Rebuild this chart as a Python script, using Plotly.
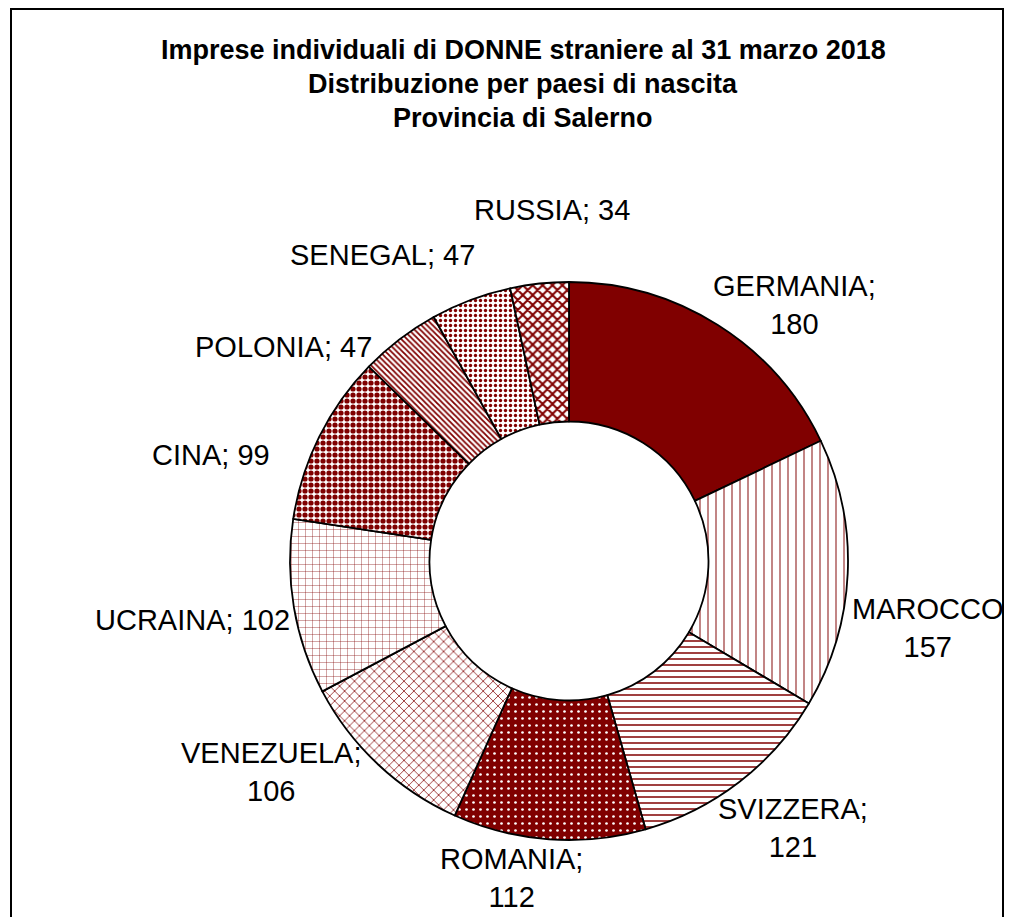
import plotly.graph_objects as go

# ---- data ----
countries = ["GERMANIA", "MAROCCO", "SVIZZERA", "ROMANIA", "VENEZUELA",
             "UCRAINA", "CINA", "POLONIA", "SENEGAL", "RUSSIA"]
values = [180, 157, 121, 112, 106, 102, 99, 47, 47, 34]
label_texts = ["GERMANIA;<br>180", "MAROCCO<br>157", "SVIZZERA;<br>121",
               "ROMANIA;<br>112", "VENEZUELA;<br>106", "UCRAINA; 102",
               "CINA; 99", "POLONIA; 47", "SENEGAL; 47", "RUSSIA; 34"]

title_lines = ["Imprese individuali di DONNE straniere al 31 marzo 2018",
               "Distribuzione per paesi di nascita",
               "Provincia di Salerno"]

# ---- styles ----
OFF = 8                      # browser body margin
W, H = 1014 - OFF, 917 - OFF
DARK = "#800000"
WHITE = "#ffffff"
FONT = "Liberation Sans, Arial, sans-serif"
shapes_p = ["", "|", "-", ".", "x", "+", ".", "\\", ".", "x"]
fg = [DARK, DARK, DARK, WHITE, DARK, DARK, DARK, DARK, DARK, DARK]
bg = [DARK, WHITE, WHITE, DARK, WHITE, WHITE, WHITE, WHITE, WHITE, WHITE]
psize = [8, 8, 6, 7, 7, 7, 6, 4, 5, 7]
solid = [0.3, 0.12, 0.25, 0.12, 0.2, 0.1, 0.6, 0.45, 0.35, 0.5]
# label anchor positions in reference pixels (x from left, y from top)
label_pos = [(794, 305), (927, 628), (793, 828), (511, 878), (271, 772),
             (192, 620), (211, 455), (283, 347), (382, 255), (552, 210)]
title_y = [50, 84, 118]
title_x = 523

cx, cy, r = 569 - OFF, 561 - OFF, 279


def px(x):
    return (x - OFF) / W


def py(y):
    return 1 - (y - OFF) / H


fig = go.Figure(go.Pie(
    labels=countries,
    values=values,
    sort=False,
    direction="clockwise",
    rotation=0,
    hole=0.5,
    textinfo="none",
    showlegend=False,
    marker=dict(
        colors=bg,
        line=dict(color="black", width=1.8),
        pattern=dict(shape=shapes_p, fgcolor=fg, bgcolor=bg,
                     size=psize, solidity=solid, fillmode="replace"),
    ),
    domain=dict(x=[(cx - r) / W, (cx + r) / W],
                y=[(H - cy - r) / H, (H - cy + r) / H]),
))

annotations = []
for txt, (lx, ly) in zip(label_texts, label_pos):
    annotations.append(dict(
        text=txt, x=px(lx), y=py(ly), xref="paper", yref="paper",
        xanchor="center", yanchor="middle", showarrow=False, align="center",
        font=dict(family=FONT, size=29, color="black")))

for line, ty in zip(title_lines, title_y):
    annotations.append(dict(
        text="<b>" + line + "</b>", x=px(title_x), y=py(ty),
        xref="paper", yref="paper", xanchor="center", yanchor="middle",
        showarrow=False,
        font=dict(family=FONT, size=27, color="black")))

fig.update_layout(
    width=W, height=H,
    margin=dict(l=0, r=0, t=0, b=0),
    paper_bgcolor="white", plot_bgcolor="white",
    annotations=annotations,
    shapes=[dict(type="rect", xref="paper", yref="paper",
                 x0=px(11), x1=px(1003), y0=-0.02, y1=py(9),
                 line=dict(color="black", width=2))],
)

fig.write_html("out.html")
